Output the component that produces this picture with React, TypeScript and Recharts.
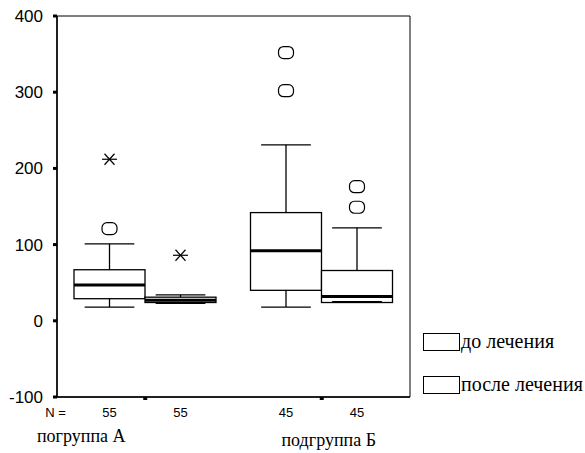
import React from 'react';
import { ComposedChart, Bar, XAxis, YAxis, ReferenceArea, Legend } from 'recharts';

const SANS = '"Liberation Sans", Arial, sans-serif';
const SERIF = '"Liberation Serif", "Times New Roman", serif';

// categories and series
const groups = ['погруппа А', 'подгруппа Б'];
const seriesNames = ['до лечения', 'после лечения'];
// N per group: [before, after]
const nBefore = [55, 45];
const nAfter = [55, 45];
// five-number summaries: [whisker low, Q1, median, Q3, whisker high]
const beforeStats = [
  [18, 29, 47, 67, 101],
  [18, 40, 92, 142, 231],
];
const afterStats = [
  [23, 24, 27, 31, 34],
  [25, 24, 32, 66, 122],
];
// outliers (circles) and extremes (stars)
const beforeOutliers = [[121], [302, 352]];
const beforeExtremes = [[212], []];
const afterOutliers = [[], [149, 176]];
const afterExtremes = [[86], []];
const yTicks = [-100, 0, 100, 200, 300, 400];

// label placement tweaks (style only)
const groupLabelShift = [-64, 7];
const groupLabelDy = [40, 44];

const data = groups.map((g, i) => ({
  group: g,
  before: [beforeStats[i][1], beforeStats[i][3]],
  after: [afterStats[i][1], afterStats[i][3]],
  beforeStats: beforeStats[i],
  afterStats: afterStats[i],
  beforeOut: beforeOutliers[i],
  afterOut: afterOutliers[i],
  beforeExt: beforeExtremes[i],
  afterExt: afterExtremes[i],
  beforeN: nBefore[i],
  afterN: nAfter[i],
}));

const makeBoxShape = (series: 'before' | 'after') => (props: any) => {
  const { x, y, width, height, payload } = props;
  const s: number[] = payload[series + 'Stats'];
  const outs: number[] = payload[series + 'Out'];
  const exts: number[] = payload[series + 'Ext'];
  const n = payload[series + 'N'];
  const top = Math.min(y, y + height);
  const bot = Math.max(y, y + height);
  const py = (v: number) => bot - ((v - s[1]) * (bot - top)) / (s[3] - s[1]);
  const cx = x + width / 2;
  const capHalf = width * 0.35;
  const sw = 1.3;
  return (
    <g>
      <line x1={cx} x2={cx} y1={py(s[4])} y2={top} stroke="#000" strokeWidth={sw} />
      <line x1={cx} x2={cx} y1={bot} y2={py(s[0])} stroke="#000" strokeWidth={sw} />
      <line x1={cx - capHalf} x2={cx + capHalf} y1={py(s[4])} y2={py(s[4])} stroke="#000" strokeWidth={sw} />
      <rect x={x} y={top} width={width} height={bot - top} fill="#fff" stroke="#000" strokeWidth={sw} />
      <line x1={cx - capHalf} x2={cx + capHalf} y1={py(s[0])} y2={py(s[0])} stroke="#000" strokeWidth={sw} />
      <line x1={x} x2={x + width} y1={py(s[2])} y2={py(s[2])} stroke="#000" strokeWidth={3} />
      {outs.map((v, i) => (
        <rect key={'o' + i} x={cx - 7.5} y={py(v) - 6} width={15} height={12} rx={5} ry={5} fill="none" stroke="#000" strokeWidth={1.2} />
      ))}
      {exts.map((v, i) => {
        const yy = py(v);
        return (
          <g key={'e' + i} stroke="#000" strokeWidth={1.2}>
            <line x1={cx - 7.5} x2={cx + 7.5} y1={yy} y2={yy} />
            <line x1={cx - 5} x2={cx + 5} y1={yy - 5.5} y2={yy + 5.5} />
            <line x1={cx - 5} x2={cx + 5} y1={yy + 5.5} y2={yy - 5.5} />
          </g>
        );
      })}
      <text x={cx} y={py(-100) + 20} textAnchor="middle" fontFamily={SANS} fontSize={13} fill="#000">
        {n}
      </text>
    </g>
  );
};

const GroupTick = (props: any) => {
  const { x, y, payload, index } = props;
  return (
    <text x={x + groupLabelShift[index]} y={y + groupLabelDy[index]} textAnchor="middle" fontFamily={SERIF} fontSize={18} fill="#000">
      {payload.value}
    </text>
  );
};

const NLabel = (props: any) => {
  const vb = props.viewBox || {};
  return (
    <text x={vb.x - 1.5} y={vb.y + 20} textAnchor="middle" fontFamily={SANS} fontSize={13} fill="#000">
      N =
    </text>
  );
};

const LegendContent = () => (
  <div>
    {seriesNames.map((name, i) => (
      <div key={name} style={{ display: 'flex', alignItems: 'center', height: 17, marginBottom: i === 0 ? 26 : 0 }}>
        <div style={{ width: 35, height: 16, border: '1px solid #000', background: '#fff', flex: 'none' }} />
        <span style={{ fontFamily: SERIF, fontSize: 20, lineHeight: '17px', marginLeft: 1, whiteSpace: 'nowrap', color: '#000' }}>
          {name}
        </span>
      </div>
    ))}
  </div>
);

export default function App() {
  return (
    <div style={{ position: 'absolute', left: 0, top: 0, width: 585, height: 453, background: '#fff' }}>
      <ComposedChart
        width={585}
        height={453}
        data={data}
        margin={{ top: 16, right: 175, bottom: 0, left: 0 }}
        barCategoryGap={17}
        barGap={0}
      >
        <ReferenceArea y1={-100} y2={400} fill="none" stroke="#000" strokeWidth={1} />
        <XAxis
          dataKey="group"
          height={56}
          axisLine={{ stroke: '#000', strokeWidth: 1.3 }}
          tickLine={{ stroke: '#000', strokeWidth: 4 }}
          tickSize={3}
          tickMargin={2}
          tick={<GroupTick />}
          interval={0}
          label={<NLabel />}
        />
        <YAxis
          type="number"
          domain={[-100, 400]}
          ticks={yTicks}
          width={57}
          axisLine={{ stroke: '#000', strokeWidth: 1.5 }}
          tickLine={{ stroke: '#000', strokeWidth: 3 }}
          tickSize={4}
          tickMargin={10}
          tick={{ fill: '#000', fontSize: 17, fontFamily: SANS }}
        />
        <Bar dataKey="before" name={seriesNames[0]} shape={makeBoxShape('before')} isAnimationActive={false} />
        <Bar dataKey="after" name={seriesNames[1]} shape={makeBoxShape('after')} isAnimationActive={false} />
        <Legend
          layout="horizontal"
          verticalAlign="middle"
          align="center"
          wrapperStyle={{ left: 423, top: 333, width: 165, height: 70 }}
          content={<LegendContent />}
        />
      </ComposedChart>
    </div>
  );
}
